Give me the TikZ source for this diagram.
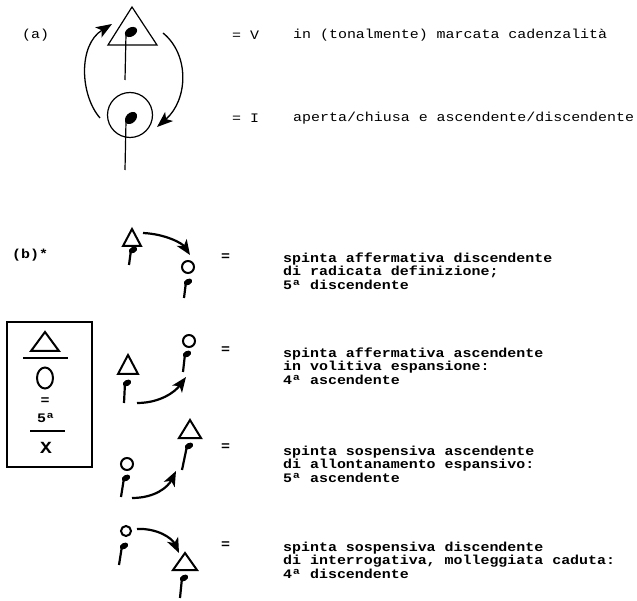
\documentclass[tikz,border=0pt]{standalone}
\usepackage{fontspec}
\usetikzlibrary{arrows.meta,shapes.geometric}
\newfontfamily\tw[FakeStretch=1.15]{Liberation Mono}
\newcommand\qnote[5]{% name, head x, head y, stem end x, stem end y
  \fill[rotate around={30:(#2,#3)}] (#2,#3) ellipse (4.5pt and 3pt);
  \coordinate (#1h) at (#2,#3);
  \coordinate (#1e) at (#4,#5);
  \draw[line width=2.2pt] ([xshift=-2pt]#1h) -- (#1e);}
\begin{document}
\begin{tikzpicture}[x=1pt,y=-1pt,
  txt/.style={font=\tw\fontsize{13}{14}\selectfont, anchor=west, inner sep=0pt},
  btxt/.style={font=\tw\bfseries\fontsize{13}{13.5}\selectfont, anchor=west, inner sep=0pt, align=left},
  arr/.style={line width=1.3pt, -{Stealth[length=16pt,width=12pt,inset=4pt]}},
  barr/.style={line width=2.2pt, -{Stealth[length=15pt,width=12pt,inset=4pt]}},
  thin/.style={line width=1.2pt},
  thick/.style={line width=2pt}]
\useasboundingbox (0,0) rectangle (637,601);
% ---------- (a) ----------
\node[txt] (la) at (22,35) {(a)};
\coordinate (tA) at (132,7);
\coordinate (tL) at (108,45);
\coordinate (tR) at (157,45);
\draw[thin] (tA) -- (tR) -- (tL) -- cycle;
\fill[rotate around={30:(131,32)}] (131,32) ellipse (6.5pt and 4.5pt);
\coordinate (s1a) at (126,34);
\coordinate (s1b) at (125,80);
\draw[thin] (s1a) -- (s1b);
\node[draw, thin, circle, minimum size=45pt, inner sep=0pt] (cI) at (130,115) {};
\fill[rotate around={45:(131,118)}] (131,118) ellipse (7pt and 5pt);
\coordinate (s2a) at (126,121);
\coordinate (s2b) at (125,170);
\draw[thin] (s2a) -- (s2b);
\coordinate (al1) at (100,118);
\coordinate (al2) at (112,24);
\draw[arr] (al1) .. controls (80,95) and (78,45) .. (al2);
\coordinate (ar1) at (163,33);
\coordinate (ar2) at (157,127);
\draw[arr] (ar1) .. controls (190,55) and (188,100) .. (ar2);
\node[txt] (eqV) at (232,35) {= V};
\node[txt] (tV) at (293,35) {in (tonalmente) marcata cadenzalità};
\node[txt] (eqI) at (232,118) {= I};
\node[txt] (tI) at (293,118) {aperta/chiusa e ascendente/discendente};
% ---------- (b) ----------
\node[btxt] (lb) at (12,255) {(b)*};
% box
\node[draw, line width=2.5pt, minimum width=85pt, minimum height=145pt, inner sep=0pt] (box) at (49.5,394.5) {};
\draw[thick] (45,332) -- (59,351) -- (31,351) -- cycle;
\coordinate (u1a) at (23,358);
\coordinate (u1b) at (68,358);
\draw[thick] (u1a) -- (u1b);
\node[draw, thick, ellipse, minimum width=16pt, minimum height=21pt, inner sep=0pt] (bo) at (45,378) {};
\node[btxt, anchor=center] (beq) at (45,401) {=};
\node[btxt, anchor=center] (b5) at (46,418) {5ª};
\coordinate (u2a) at (30,431);
\coordinate (u2b) at (65,431);
\draw[thick] (u2a) -- (u2b);
\node[btxt, anchor=center, font=\tw\bfseries\fontsize{17}{17}\selectfont] (bx) at (46,448) {X};
% row 1
\draw[thick] (132,229) -- (141,246) -- (123,246) -- cycle;
\qnote{n1a}{133}{250}{129}{265}
\coordinate (r1s) at (143,233);
\coordinate (r1e) at (190,255);
\draw[barr] (r1s) .. controls (165,234) and (182,243) .. (r1e);
\node[draw, thick, circle, minimum size=12pt, inner sep=0pt] (c1) at (188,267) {};
\qnote{n1b}{188}{282}{184}{298}
\node[btxt] (e1) at (221,257) {=};
\node[btxt] (t1) at (283,271) {spinta affermativa discendente\\di radicata definizione;\\5ª discendente};
% row 2
\draw[thick] (128,355) -- (138,374) -- (118,374) -- cycle;
\qnote{n2a}{127}{383}{124}{403}
\coordinate (r2s) at (137,403);
\coordinate (r2e) at (186,377);
\draw[barr] (r2s) .. controls (160,403) and (175,392) .. (r2e);
\node[draw, thick, circle, minimum size=12pt, inner sep=0pt] (c2) at (189,341) {};
\qnote{n2b}{187}{354}{183}{372}
\node[btxt] (e2) at (221,350) {=};
\node[btxt] (t2) at (283,366) {spinta affermativa ascendente\\in volitiva espansione:\\4ª ascendente};
% row 3
\node[draw, thick, circle, minimum size=12pt, inner sep=0pt] (c3) at (127,464) {};
\qnote{n3a}{126}{478}{121}{497}
\coordinate (r3s) at (132,498);
\coordinate (r3e) at (176,471);
\draw[barr] (r3s) .. controls (155,498) and (168,487) .. (r3e);
\draw[thick] (190,420) -- (201,438) -- (179,438) -- cycle;
\qnote{n3b}{189}{446}{182}{470}
\node[btxt] (e3) at (221,447) {=};
\node[btxt] (t3) at (283,464) {spinta sospensiva ascendente\\di allontanamento espansivo:\\5ª ascendente};
% row 4
\node[draw, thick, circle, minimum size=10pt, inner sep=0pt] (c4) at (126,531) {};
\qnote{n4a}{124}{546}{119}{565}
\coordinate (r4s) at (137,529);
\coordinate (r4e) at (179,553);
\draw[barr] (r4s) .. controls (157,528) and (172,538) .. (r4e);
\draw[thick] (185,553) -- (197,570) -- (173,570) -- cycle;
\qnote{n4b}{184}{578}{180}{598}
\node[btxt] (e4) at (221,545) {=};
\node[btxt] (t4) at (283,560) {spinta sospensiva discendente\\di interrogativa, molleggiata caduta:\\4ª discendente};
\end{tikzpicture}
\end{document}
